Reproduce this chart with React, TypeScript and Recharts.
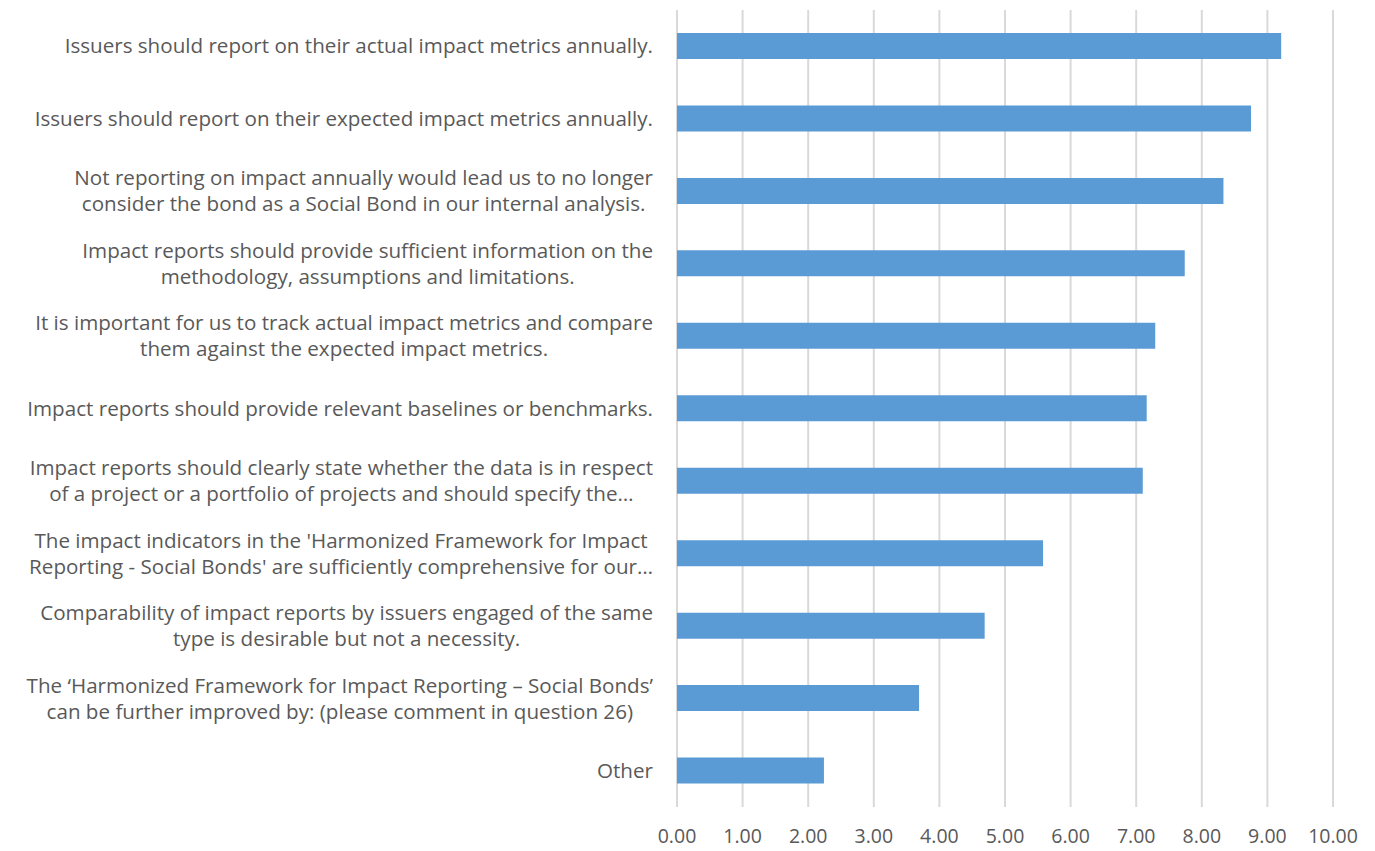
import React from 'react';
import { BarChart, Bar, XAxis, YAxis, CartesianGrid } from 'recharts';

// statements (top to bottom), "\n" marks a line break in the axis label
const statements = [
  'Issuers should report on their actual impact metrics annually.',
  'Issuers should report on their expected impact metrics annually.',
  'Not reporting on impact annually would lead us to no longer\nconsider the bond as a Social Bond in our internal analysis.',
  'Impact reports should provide sufficient information on the\nmethodology, assumptions and limitations.',
  'It is important for us to track actual impact metrics and compare\nthem against the expected impact metrics.',
  'Impact reports should provide relevant baselines or benchmarks.',
  'Impact reports should clearly state whether the data is in respect\nof a project or a portfolio of projects and should specify the…',
  "The impact indicators in the 'Harmonized Framework for Impact\nReporting - Social Bonds' are sufficiently comprehensive for our…",
  'Comparability of impact reports by issuers engaged of the same\ntype is desirable but not a necessity.',
  'The ‘Harmonized Framework for Impact Reporting – Social Bonds’\ncan be further improved by: (please comment in question 26)',
  'Other',
];

const scores = [9.21, 8.75, 8.33, 7.74, 7.29, 7.16, 7.1, 5.58, 4.69, 3.69, 2.24];

const xTicks = [0, 1, 2, 3, 4, 5, 6, 7, 8, 9, 10];

const FONT = '"Open Sans", sans-serif';
const X_FONT_SIZE = 19.5;
const Y_FONT_SIZE = 20.6;
const TEXT = '#595959';

const data = statements.map((s, i) => ({ name: s, score: scores[i] }));

let ctx: CanvasRenderingContext2D | null = null;
function measure(t: string) {
  if (!ctx) ctx = document.createElement('canvas').getContext('2d');
  ctx!.font = `${Y_FONT_SIZE}px "Open Sans"`;
  return ctx!.measureText(t).width;
}

// multi-line label: lines centred on each other, block right-aligned to the plot
const StatementTick = (props: any) => {
  const { x, y, payload } = props;
  const lines: string[] = String(payload.value).split('\n');
  const blockW = Math.max(...lines.map(measure));
  const lineH = 26;
  const startY = y - ((lines.length - 1) * lineH) / 2;
  return (
    <g>
      {lines.map((l, i) => (
        <text
          key={i}
          x={x - blockW / 2}
          y={startY + i * lineH}
          dy="0.35em"
          textAnchor="middle"
          fill={TEXT}
          fontSize={Y_FONT_SIZE}
          fontFamily={FONT}
        >
          {l}
        </text>
      ))}
    </g>
  );
};

export default function App() {
  return (
    <div style={{ width: 1367, height: 843, background: '#fff' }}>
      <BarChart
        width={1367}
        height={843}
        data={data}
        layout="vertical"
        margin={{ top: 2, right: 42, bottom: 0, left: 0 }}
      >
        <CartesianGrid horizontal={false} stroke="#d9d9d9" strokeWidth={2} />
        <XAxis
          type="number"
          domain={[0, 10]}
          ticks={xTicks}
          interval={0}
          axisLine={false}
          tickLine={false}
          tickSize={0}
          tickMargin={22}
          height={44}
          tickFormatter={(v: number) => v.toFixed(2)}
          tick={{ fill: TEXT, fontSize: X_FONT_SIZE, fontFamily: FONT }}
        />
        <YAxis
          type="category"
          dataKey="name"
          width={669}
          axisLine={false}
          tickLine={false}
          tickSize={0}
          tickMargin={24}
          interval={0}
          tick={<StatementTick />}
        />
        <Bar dataKey="score" fill="#5b9bd5" barSize={26} isAnimationActive={false} />
      </BarChart>
    </div>
  );
}
